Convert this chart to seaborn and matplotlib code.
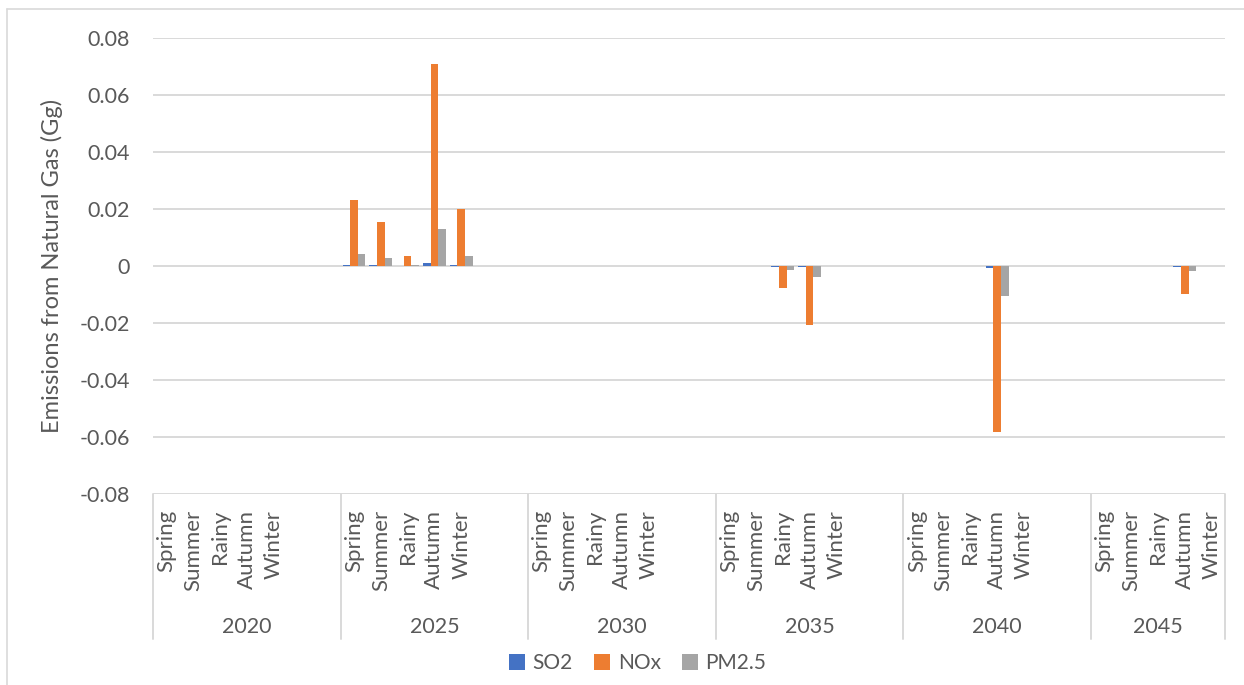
import matplotlib
matplotlib.use("Agg")
import matplotlib.pyplot as plt
import matplotlib.transforms as mtransforms
from matplotlib.patches import Patch
from matplotlib.lines import Line2D
import seaborn as sns
import pandas as pd

# Scenario years and seasons on the two-level category axis
years = ["2020", "2025", "2030", "2035", "2040", "2045"]
seasons = ["Spring", "Summer", "Rainy", "Autumn", "Winter"]
pollutants = ["SO2", "NOx", "PM2.5"]

# Emission changes (Gg), year-major, season-minor
so2 = [0, 0, 0, 0, 0,
       0.0003, 0.0002, 0.0001, 0.0010, 0.0002,
       0, 0, 0, 0, 0,
       0, 0, -0.0002, -0.0004, 0,
       0, 0, 0, -0.0007, 0,
       0, 0, 0, -0.0003, 0]
nox = [0, 0, 0, 0, 0,
       0.0232, 0.0154, 0.0035, 0.0709, 0.0199,
       0, 0, 0, 0, 0,
       0, 0, -0.0077, -0.0207, 0,
       0, 0, 0, -0.0583, 0,
       0, 0, 0, -0.0098, 0]
pm25 = [0, 0, 0, 0, 0,
        0.0042, 0.0028, 0.0004, 0.0130, 0.0035,
        0, 0, 0, 0, 0,
        0, 0, -0.0014, -0.0039, 0,
        0, 0, 0, -0.0105, 0,
        0, 0, 0, -0.0018, 0]

y_ticks = [0.08, 0.06, 0.04, 0.02, 0, -0.02, -0.04, -0.06, -0.08]
y_tick_labels = ["0.08", "0.06", "0.04", "0.02", "0", "-0.02", "-0.04", "-0.06", "-0.08"]

colors = {"SO2": "#4472C4", "NOx": "#ED7D31", "PM2.5": "#A5A5A5"}
text_color = "#595959"
grid_color = "#D9D9D9"

# Slot order: five seasons per year, two empty spacer slots between years
slots, tick_pos, tick_lab = [], [], []
group_bounds = [-0.5]
group_centers = []
for yi, yr in enumerate(years):
    start = len(slots)
    for s in seasons:
        tick_pos.append(len(slots))
        tick_lab.append(s)
        slots.append(f"{yr} {s}")
    if yi < len(years) - 1:
        slots += [f"{yr} gap1", f"{yr} gap2"]
    end = len(slots) - 1
    group_bounds.append(end + 0.5)
    group_centers.append((start - 0.5 + end + 0.5) / 2)

rows = []
for yi, yr in enumerate(years):
    for si, s in enumerate(seasons):
        k = yi * len(seasons) + si
        for p, vals in zip(pollutants, (so2, nox, pm25)):
            rows.append({"slot": f"{yr} {s}", "pollutant": p, "value": vals[k]})
df = pd.DataFrame(rows)

sns.set_theme(style="white")
plt.rcParams["font.family"] = ["Lato", "DejaVu Sans"]

fig = plt.figure(figsize=(12.44, 6.85), dpi=100)
ax = fig.add_axes([153 / 1244, 1 - 494 / 685, (1225 - 153) / 1244, (494 - 38) / 685])

sns.barplot(data=df, x="slot", y="value", hue="pollutant", order=slots,
            hue_order=pollutants, palette=colors, width=0.85, gap=0,
            saturation=1, errorbar=None, legend=False, linewidth=0, ax=ax)

ax.set_xlim(-0.5, len(slots) - 0.5)
ax.set_ylim(-0.08, 0.08)
ax.set_yticks(y_ticks)
ax.set_yticklabels(y_tick_labels)
ax.yaxis.grid(True, color=grid_color, linewidth=1.4)
ax.set_axisbelow(True)
for side in ["top", "right", "left", "bottom"]:
    ax.spines[side].set_visible(False)
ax.tick_params(axis="y", length=0, pad=16.5, labelsize=15.5, labelcolor=text_color)

ax.set_xticks(tick_pos)
ax.set_xticklabels(tick_lab, rotation=90, va="top", ha="center")
ax.tick_params(axis="x", length=0, pad=11.5, labelsize=16, labelcolor=text_color)
ax.set_xlabel("")
ax.set_ylabel("Emissions from Natural Gas (Gg)", fontsize=17, color=text_color, labelpad=12)

# Year labels and group separators under the season labels
trans = mtransforms.blended_transform_factory(ax.transData, ax.transAxes)
for yr, c in zip(years, group_centers):
    ax.text(c, -0.292, yr, transform=trans, ha="center", va="center",
            fontsize=15.5, color=text_color)
for b in group_bounds:
    ax.add_line(Line2D([b, b], [0, -0.318], transform=trans, color=grid_color,
                       linewidth=1.4, clip_on=False))

# Chart frame
fig.add_artist(Line2D([7 / 1244, 7 / 1244], [0, 1 - 9 / 685], transform=fig.transFigure,
                      color=grid_color, linewidth=1.2))
fig.add_artist(Line2D([7 / 1244, 1], [1 - 9 / 685, 1 - 9 / 685], transform=fig.transFigure,
                      color=grid_color, linewidth=1.2))

handles = [Patch(facecolor=colors[p], edgecolor="none", label=p) for p in pollutants]
fig.legend(handles=handles, loc="center", bbox_to_anchor=(0.5125, 1 - 663 / 685), ncol=3,
           frameon=False, fontsize=15, labelcolor=text_color, handlelength=0.8,
           handleheight=0.8, handletextpad=0.35, columnspacing=1.0)

fig.savefig("out.png", dpi=100, facecolor="white")
